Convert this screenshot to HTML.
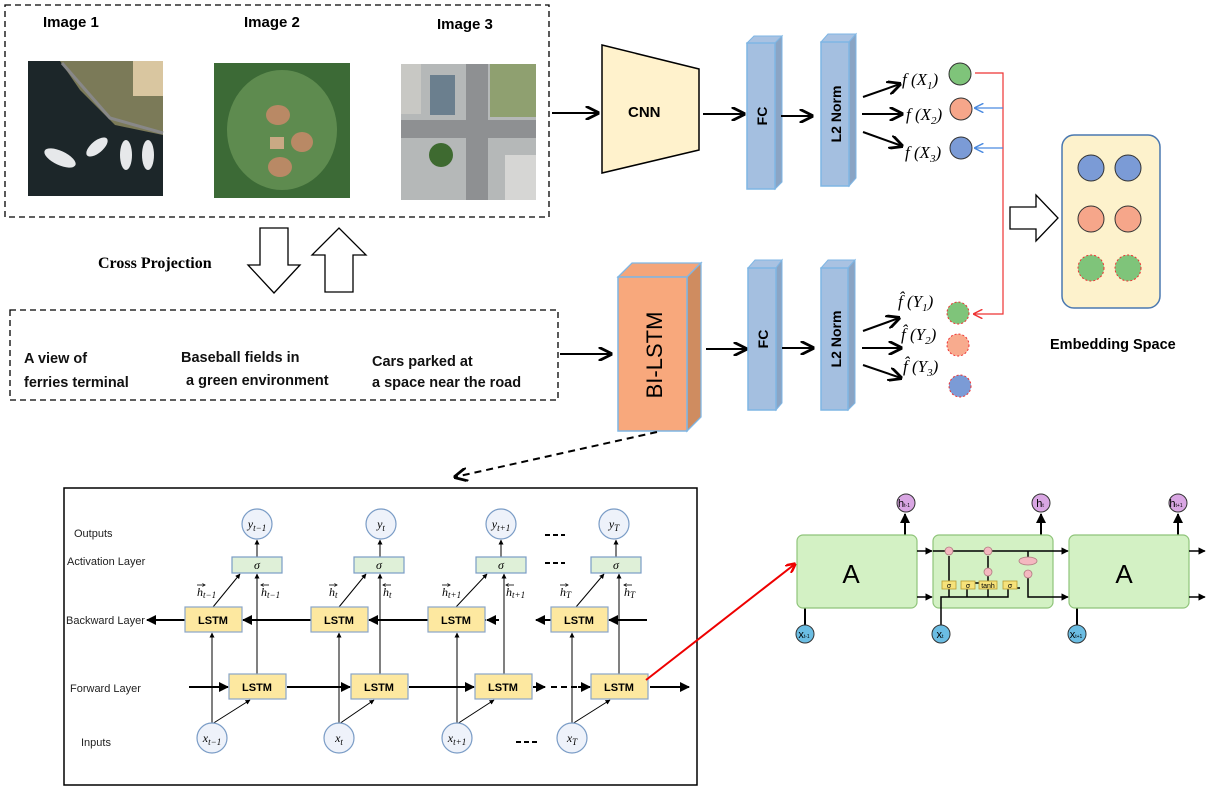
<!DOCTYPE html>
<html><head><meta charset="utf-8"><style>
html,body{margin:0;padding:0;background:#fff;}
svg{display:block;font-family:"Liberation Sans",sans-serif;}
.b{font-weight:bold;}
.m{font-family:"Liberation Serif",serif;font-style:italic;}
</style></head><body>
<svg width="1207" height="793" viewBox="0 0 1207 793" xmlns="http://www.w3.org/2000/svg">
<defs>
<marker id="ah" viewBox="0 0 10 10" refX="9" refY="5" markerWidth="7" markerHeight="7" orient="auto-start-reverse"><path d="M0,0 L10,5 L0,10" fill="none" stroke="#000" stroke-width="2"/></marker>
<marker id="as" viewBox="0 0 10 10" refX="9" refY="5" markerWidth="5" markerHeight="5" orient="auto"><path d="M0,0 L10,5 L0,10 z" fill="#000"/></marker>
<marker id="ar" viewBox="0 0 10 10" refX="9" refY="5" markerWidth="8" markerHeight="8" orient="auto"><path d="M0,0 L10,5 L0,10" fill="none" stroke="#e33" stroke-width="1.5"/></marker>
<marker id="ab" viewBox="0 0 10 10" refX="9" refY="5" markerWidth="8" markerHeight="8" orient="auto"><path d="M0,0 L10,5 L0,10" fill="none" stroke="#4a8ae0" stroke-width="1.5"/></marker>
<marker id="ared" viewBox="0 0 10 10" refX="9" refY="5" markerWidth="5" markerHeight="5" orient="auto"><path d="M0,0 L10,5 L0,10" fill="none" stroke="#e00" stroke-width="2.5"/></marker>
<marker id="tiny" viewBox="0 0 10 10" refX="9" refY="5" markerWidth="4" markerHeight="4" orient="auto-start-reverse"><path d="M0,0 L10,5 L0,10" fill="none" stroke="#000" stroke-width="2"/></marker>
</defs>

<!-- top dashed box -->
<rect x="5" y="5" width="544" height="212" fill="none" stroke="#000" stroke-width="1.3" stroke-dasharray="6,4"/>
<text x="43" y="27" class="b" font-size="15">Image 1</text>
<text x="244" y="27" class="b" font-size="15">Image 2</text>
<text x="437" y="29" class="b" font-size="15">Image 3</text>
<!-- image1 -->
<rect x="28" y="61" width="135" height="135" fill="#1c2629"/>
<polygon points="60,61 163,61 163,135 115,125 80,90" fill="#7b7a58"/>
<rect x="133" y="61" width="30" height="35" fill="#d9c6a0"/>
<polyline points="62,63 110,118 163,133" fill="none" stroke="#888" stroke-width="3"/>
<ellipse cx="60" cy="158" rx="17" ry="7" transform="rotate(25 60 158)" fill="#e6e8ea"/>
<ellipse cx="97" cy="147" rx="13" ry="6" transform="rotate(-40 97 147)" fill="#e6e8ea"/>
<ellipse cx="126" cy="155" rx="6" ry="15" fill="#e6e8ea"/>
<ellipse cx="148" cy="155" rx="6" ry="15" fill="#e6e8ea"/>
<!-- image2 -->
<rect x="214" y="63" width="136" height="135" fill="#3c6a36"/>
<ellipse cx="282" cy="130" rx="55" ry="60" fill="#5e8b4f"/>
<ellipse cx="278" cy="115" rx="12" ry="10" fill="#b98965"/>
<ellipse cx="302" cy="142" rx="11" ry="10" fill="#b98965"/>
<ellipse cx="280" cy="167" rx="12" ry="10" fill="#b98965"/>
<rect x="270" y="137" width="14" height="12" fill="#c9a984"/>
<!-- image3 -->
<rect x="401" y="64" width="135" height="136" fill="#b5b8b8"/>
<rect x="466" y="64" width="22" height="136" fill="#8e9092"/>
<rect x="401" y="120" width="135" height="18" fill="#8e9092"/>
<rect x="490" y="64" width="46" height="53" fill="#8fa070"/>
<rect x="401" y="64" width="20" height="50" fill="#c8c8c4"/>
<rect x="430" y="75" width="25" height="40" fill="#6b7f8e"/>
<circle cx="441" cy="155" r="12" fill="#3e6a30"/>
<rect x="505" y="155" width="31" height="45" fill="#d6d6d4"/>

<text x="98" y="268" font-family="Liberation Serif,serif" class="b" font-size="16">Cross Projection</text>
<polygon points="260,228 288,228 288,265 300,265 274,293 248,265 260,265" fill="#fff" stroke="#000" stroke-width="1.3"/>
<polygon points="325,292 353,292 353,255 366,255 339,228 312,255 325,255" fill="#fff" stroke="#000" stroke-width="1.3"/>

<!-- text dashed box -->
<rect x="10" y="310" width="548" height="90" fill="none" stroke="#000" stroke-width="1.3" stroke-dasharray="6,4"/>
<g class="b" font-size="14.5" fill="#111">
<text x="24" y="363">A view of</text>
<text x="24" y="387">ferries  terminal</text>
<text x="181" y="362">Baseball fields in</text>
<text x="186" y="385">a green environment</text>
<text x="372" y="366">Cars parked at</text>
<text x="372" y="387">a space  near the road</text>
</g>

<line x1="552" y1="113" x2="598" y2="113" stroke="#000" stroke-width="2" marker-end="url(#ah)"/>
<polygon points="602,45 699,69 699,150 602,173" fill="#fff2cc" stroke="#000" stroke-width="1.5"/>
<text x="628" y="117" class="b" font-size="15">CNN</text>
<line x1="703" y1="114" x2="744" y2="114" stroke="#000" stroke-width="2" marker-end="url(#ah)"/>
<polygon points="747,43 754,36 782,36 775,43" fill="#a9c2e2" stroke="#7fb6e4"/>
<polygon points="775,43 782,36 782,182 775,189" fill="#8aa4c4" stroke="#7fb6e4"/>
<rect x="747" y="43" width="28" height="146" fill="#a4bfe0" stroke="#7fb6e4" stroke-width="1.5"/>
<text transform="translate(767,116) rotate(-90)" text-anchor="middle" class="b" font-size="14">FC</text>
<line x1="781" y1="116" x2="812" y2="116" stroke="#000" stroke-width="2" marker-end="url(#ah)"/>
<polygon points="821,42 828,34 856,34 849,42" fill="#a9c2e2" stroke="#7fb6e4"/>
<polygon points="849,42 856,34 856,178 849,186" fill="#8aa4c4" stroke="#7fb6e4"/>
<rect x="821" y="42" width="28" height="144" fill="#a4bfe0" stroke="#7fb6e4" stroke-width="1.5"/>
<text transform="translate(841,114) rotate(-90)" text-anchor="middle" class="b" font-size="14">L2 Norm</text>
<line x1="863" y1="97" x2="900" y2="84" stroke="#000" stroke-width="2" marker-end="url(#ah)"/>
<line x1="862" y1="114" x2="902" y2="114" stroke="#000" stroke-width="2" marker-end="url(#ah)"/>
<line x1="863" y1="132" x2="902" y2="146" stroke="#000" stroke-width="2" marker-end="url(#ah)"/>
<g class="m" font-size="17">
<text x="902" y="85">f (X<tspan font-size="11" dy="4">1</tspan><tspan dy="-4">)</tspan></text>
<text x="906" y="120">f (X<tspan font-size="11" dy="4">2</tspan><tspan dy="-4">)</tspan></text>
<text x="905" y="158">f (X<tspan font-size="11" dy="4">3</tspan><tspan dy="-4">)</tspan></text>
</g>
<circle cx="960" cy="74" r="11" fill="#7fc47a" stroke="#333" stroke-width="1"/>
<circle cx="961" cy="109" r="11" fill="#f6a68a" stroke="#333" stroke-width="1"/>
<circle cx="961" cy="148" r="11" fill="#7b9bd6" stroke="#333" stroke-width="1"/>
<polyline points="975,73 1003,73 1003,314 974,314" fill="none" stroke="#e33" stroke-width="1.2" marker-end="url(#ar)"/>
<line x1="1003" y1="108" x2="975" y2="108" stroke="#4a8ae0" stroke-width="1.2" marker-end="url(#ab)"/>
<line x1="1003" y1="148" x2="975" y2="148" stroke="#4a8ae0" stroke-width="1.2" marker-end="url(#ab)"/>

<line x1="560" y1="354" x2="611" y2="354" stroke="#000" stroke-width="2" marker-end="url(#ah)"/>
<polygon points="618,277 632,263 701,263 687,277" fill="#f4a57a" stroke="#7fb6e4" stroke-width="1.3"/>
<polygon points="687,277 701,263 701,417 687,431" fill="#cf8c60" stroke="#7fb6e4" stroke-width="1.3"/>
<rect x="618" y="277" width="69" height="154" fill="#f8a87c" stroke="#7fb6e4" stroke-width="1.5"/>
<text transform="translate(662,355) rotate(-90)" text-anchor="middle" font-size="22">BI-LSTM</text>
<line x1="706" y1="349" x2="746" y2="349" stroke="#000" stroke-width="2" marker-end="url(#ah)"/>
<polygon points="748,268 755,260 782,260 776,268" fill="#a9c2e2" stroke="#7fb6e4"/>
<polygon points="776,268 782,260 782,403 776,410" fill="#8aa4c4" stroke="#7fb6e4"/>
<rect x="748" y="268" width="28" height="142" fill="#a4bfe0" stroke="#7fb6e4" stroke-width="1.5"/>
<text transform="translate(768,339) rotate(-90)" text-anchor="middle" class="b" font-size="14">FC</text>
<line x1="782" y1="348" x2="813" y2="348" stroke="#000" stroke-width="2" marker-end="url(#ah)"/>
<polygon points="821,268 828,260 855,260 848,268" fill="#a9c2e2" stroke="#7fb6e4"/>
<polygon points="848,268 855,260 855,403 848,410" fill="#8aa4c4" stroke="#7fb6e4"/>
<rect x="821" y="268" width="27" height="142" fill="#a4bfe0" stroke="#7fb6e4" stroke-width="1.5"/>
<text transform="translate(841,339) rotate(-90)" text-anchor="middle" class="b" font-size="14">L2 Norm</text>
<line x1="863" y1="331" x2="899" y2="318" stroke="#000" stroke-width="2" marker-end="url(#ah)"/>
<line x1="862" y1="348" x2="901" y2="348" stroke="#000" stroke-width="2" marker-end="url(#ah)"/>
<line x1="863" y1="365" x2="901" y2="378" stroke="#000" stroke-width="2" marker-end="url(#ah)"/>
<g class="m" font-size="17">
<text x="898" y="307">f̂ (Y<tspan font-size="11" dy="4">1</tspan><tspan dy="-4">)</tspan></text>
<text x="901" y="340">f̂ (Y<tspan font-size="11" dy="4">2</tspan><tspan dy="-4">)</tspan></text>
<text x="903" y="372">f̂ (Y<tspan font-size="11" dy="4">3</tspan><tspan dy="-4">)</tspan></text>
</g>
<circle cx="958" cy="313" r="11" fill="#7fc47a" stroke="#e33" stroke-dasharray="2,2"/>
<circle cx="958" cy="345" r="11" fill="#f8ab8e" stroke="#e33" stroke-dasharray="2,2"/>
<circle cx="960" cy="386" r="11" fill="#7b9bd6" stroke="#e33" stroke-dasharray="2,2"/>

<polygon points="1010,207 1036,207 1036,195 1058,218 1036,241 1036,229 1010,229" fill="#fff" stroke="#000" stroke-width="1.3"/>
<rect x="1062" y="135" width="98" height="173" rx="12" fill="#fdf2cc" stroke="#4a78b0" stroke-width="1.5"/>
<circle cx="1091" cy="168" r="13" fill="#7b9bd6" stroke="#333"/>
<circle cx="1128" cy="168" r="13" fill="#7b9bd6" stroke="#333"/>
<circle cx="1091" cy="219" r="13" fill="#f6a68a" stroke="#333"/>
<circle cx="1128" cy="219" r="13" fill="#f6a68a" stroke="#333"/>
<circle cx="1091" cy="268" r="13" fill="#7fc47a" stroke="#e33" stroke-dasharray="2,2"/>
<circle cx="1128" cy="268" r="13" fill="#7fc47a" stroke="#e33" stroke-dasharray="2,2"/>
<text x="1050" y="349" class="b" font-size="14.5">Embedding Space</text>

<line x1="657" y1="432" x2="455" y2="477" stroke="#000" stroke-width="2" stroke-dasharray="7,5" marker-end="url(#ah)"/>

<rect x="64" y="488" width="633" height="297" fill="#fff" stroke="#000" stroke-width="1.5"/>
<g font-size="11" fill="#222">
<text x="74" y="537">Outputs</text>
<text x="67" y="565">Activation Layer</text>
<text x="66" y="624">Backward Layer</text>
<text x="70" y="692">Forward Layer</text>
<text x="81" y="746">Inputs</text>
</g>
<g stroke="#000" stroke-width="2">
<line x1="185" y1="620" x2="147" y2="620" marker-end="url(#as)"/>
<line x1="311" y1="620" x2="243" y2="620" marker-end="url(#as)"/>
<line x1="428" y1="620" x2="369" y2="620" marker-end="url(#as)"/>
<line x1="470" y1="620" x2="487" y2="620" stroke-dasharray="6,4"/>
<line x1="551" y1="620" x2="536" y2="620" marker-end="url(#as)"/>
<line x1="499" y1="620" x2="487" y2="620" marker-end="url(#as)"/>
<line x1="647" y1="620" x2="609" y2="620" marker-end="url(#as)"/>
<line x1="189" y1="687" x2="228" y2="687" marker-end="url(#as)"/>
<line x1="287" y1="687" x2="350" y2="687" marker-end="url(#as)"/>
<line x1="409" y1="687" x2="474" y2="687" marker-end="url(#as)"/>
<line x1="533" y1="687" x2="545" y2="687" marker-end="url(#as)"/>
<line x1="551" y1="687" x2="580" y2="687" stroke-dasharray="6,4"/>
<line x1="578" y1="687" x2="590" y2="687" marker-end="url(#as)"/>
<line x1="650" y1="687" x2="689" y2="687" marker-end="url(#as)"/>
</g>
<g stroke="#000" stroke-width="1" fill="none">
<line x1="212" y1="724" x2="212" y2="633" marker-end="url(#as)"/><line x1="212" y1="724" x2="250" y2="700" marker-end="url(#as)"/>
<line x1="257" y1="674" x2="257" y2="574" marker-end="url(#as)"/><line x1="213" y1="607" x2="240" y2="574" marker-end="url(#as)"/><line x1="257" y1="557" x2="257" y2="540" marker-end="url(#as)"/>
<line x1="339" y1="724" x2="339" y2="633" marker-end="url(#as)"/><line x1="339" y1="724" x2="374" y2="700" marker-end="url(#as)"/>
<line x1="380" y1="674" x2="380" y2="574" marker-end="url(#as)"/><line x1="339" y1="607" x2="366" y2="574" marker-end="url(#as)"/><line x1="380" y1="557" x2="380" y2="540" marker-end="url(#as)"/>
<line x1="457" y1="724" x2="457" y2="633" marker-end="url(#as)"/><line x1="457" y1="724" x2="494" y2="700" marker-end="url(#as)"/>
<line x1="504" y1="674" x2="504" y2="574" marker-end="url(#as)"/><line x1="456" y1="607" x2="487" y2="574" marker-end="url(#as)"/><line x1="501" y1="557" x2="501" y2="540" marker-end="url(#as)"/>
<line x1="572" y1="724" x2="572" y2="633" marker-end="url(#as)"/><line x1="572" y1="724" x2="610" y2="700" marker-end="url(#as)"/>
<line x1="619" y1="674" x2="619" y2="574" marker-end="url(#as)"/><line x1="576" y1="607" x2="604" y2="574" marker-end="url(#as)"/><line x1="616" y1="557" x2="616" y2="540" marker-end="url(#as)"/>
</g>
<g fill="#fde8a0" stroke="#8aa5c8" stroke-width="1.2">
<rect x="185" y="607" width="57" height="25"/><rect x="311" y="607" width="57" height="25"/><rect x="428" y="607" width="57" height="25"/><rect x="551" y="607" width="57" height="25"/>
<rect x="229" y="674" width="57" height="25"/><rect x="351" y="674" width="57" height="25"/><rect x="475" y="674" width="57" height="25"/><rect x="591" y="674" width="57" height="25"/>
</g>
<g font-size="11" class="b" text-anchor="middle">
<text x="213" y="624">LSTM</text><text x="339" y="624">LSTM</text><text x="456" y="624">LSTM</text><text x="579" y="624">LSTM</text>
<text x="257" y="691">LSTM</text><text x="379" y="691">LSTM</text><text x="503" y="691">LSTM</text><text x="619" y="691">LSTM</text>
</g>
<g fill="#dff0d8" stroke="#7a9cc6" stroke-width="1.2">
<rect x="232" y="557" width="50" height="16"/><rect x="354" y="557" width="50" height="16"/><rect x="476" y="557" width="50" height="16"/><rect x="591" y="557" width="50" height="16"/>
</g>
<g class="m" font-size="12" text-anchor="middle">
<text x="257" y="569">σ</text><text x="379" y="569">σ</text><text x="501" y="569">σ</text><text x="616" y="569">σ</text>
</g>
<g fill="#eef2fa" stroke="#7a9cc6" stroke-width="1.2">
<circle cx="257" cy="524" r="15"/><circle cx="381" cy="524" r="15"/><circle cx="501" cy="524" r="15"/><circle cx="614" cy="524" r="15"/>
<circle cx="212" cy="738" r="15"/><circle cx="339" cy="738" r="15"/><circle cx="457" cy="738" r="15"/><circle cx="572" cy="738" r="15"/>
</g>
<g class="m" font-size="12" text-anchor="middle">
<text x="257" y="528">y<tspan font-size="9" dy="3">t−1</tspan></text>
<text x="381" y="528">y<tspan font-size="9" dy="3">t</tspan></text>
<text x="501" y="528">y<tspan font-size="9" dy="3">t+1</tspan></text>
<text x="614" y="528">y<tspan font-size="9" dy="3">T</tspan></text>
<text x="212" y="742">x<tspan font-size="9" dy="3">t−1</tspan></text>
<text x="339" y="742">x<tspan font-size="9" dy="3">t</tspan></text>
<text x="457" y="742">x<tspan font-size="9" dy="3">t+1</tspan></text>
<text x="572" y="742">x<tspan font-size="9" dy="3">T</tspan></text>
</g>
<!-- h labels -->
<g class="m" font-size="12">
<text x="197" y="596">h<tspan font-size="9" dy="2">t−1</tspan></text>
<text x="261" y="596">h<tspan font-size="9" dy="2">t−1</tspan></text>
<text x="329" y="596">h<tspan font-size="9" dy="2">t</tspan></text>
<text x="383" y="596">h<tspan font-size="9" dy="2">t</tspan></text>
<text x="442" y="596">h<tspan font-size="9" dy="2">t+1</tspan></text>
<text x="506" y="596">h<tspan font-size="9" dy="2">t+1</tspan></text>
<text x="560" y="596">h<tspan font-size="9" dy="2">T</tspan></text>
<text x="624" y="596">h<tspan font-size="9" dy="2">T</tspan></text>
</g>
<g stroke="#000" stroke-width="0.8">
<line x1="197" y1="585" x2="205" y2="585" marker-end="url(#tiny)"/>
<line x1="269" y1="585" x2="261" y2="585" marker-end="url(#tiny)"/>
<line x1="329" y1="585" x2="337" y2="585" marker-end="url(#tiny)"/>
<line x1="391" y1="585" x2="383" y2="585" marker-end="url(#tiny)"/>
<line x1="442" y1="585" x2="450" y2="585" marker-end="url(#tiny)"/>
<line x1="514" y1="585" x2="506" y2="585" marker-end="url(#tiny)"/>
<line x1="560" y1="585" x2="568" y2="585" marker-end="url(#tiny)"/>
<line x1="632" y1="585" x2="624" y2="585" marker-end="url(#tiny)"/>
</g>
<g stroke="#000" stroke-width="2" stroke-dasharray="5,3">
<line x1="545" y1="535" x2="565" y2="535"/><line x1="545" y1="563" x2="565" y2="563"/><line x1="516" y1="742" x2="540" y2="742"/>
</g>

<line x1="646" y1="680" x2="795" y2="564" stroke="#e00" stroke-width="2" marker-end="url(#ared)"/>

<g stroke="#000" stroke-width="2">
<line x1="905" y1="535" x2="905" y2="514" marker-end="url(#as)"/>
<line x1="1041" y1="597" x2="1041" y2="514" marker-end="url(#as)"/>
<line x1="1178" y1="535" x2="1178" y2="514" marker-end="url(#as)"/>
<line x1="805" y1="608" x2="805" y2="625"/>
<line x1="1077" y1="608" x2="1077" y2="625"/>
</g>
<rect x="797" y="535" width="120" height="73" rx="6" fill="#d3f1c4" stroke="#8fc47a" stroke-width="1.2"/>
<rect x="933" y="535" width="120" height="73" rx="6" fill="#d3f1c4" stroke="#8fc47a" stroke-width="1.2"/>
<rect x="1069" y="535" width="120" height="73" rx="6" fill="#d3f1c4" stroke="#8fc47a" stroke-width="1.2"/>
<g stroke="#000" stroke-width="1.5" fill="none">
<line x1="917" y1="551" x2="932" y2="551" marker-end="url(#as)"/>
<line x1="917" y1="597" x2="932" y2="597" marker-end="url(#as)"/>
<line x1="933" y1="551" x2="1068" y2="551" marker-end="url(#as)"/>
<line x1="1189" y1="551" x2="1205" y2="551" marker-end="url(#as)"/>
<line x1="1189" y1="597" x2="1205" y2="597" marker-end="url(#as)"/>
<polyline points="941,625 941,597 1008,597 1008,588 1020,588"/>
<polyline points="1028,570 1028,597 1068,597" marker-end="url(#as)"/>
<line x1="949" y1="597" x2="949" y2="556"/>
<line x1="967" y1="597" x2="967" y2="583"/>
<polyline points="967,583 983,583"/>
<line x1="988" y1="597" x2="988" y2="556"/>
<line x1="1028" y1="551" x2="1028" y2="565"/>
</g>
<g fill="#f6e27a" stroke="#b89a30" stroke-width="0.8">
<rect x="942" y="581" width="14" height="8"/><rect x="961" y="581" width="14" height="8"/><rect x="979" y="581" width="18" height="8"/><rect x="1003" y="581" width="14" height="8"/>
</g>
<g fill="#f4b8c0" stroke="#b07a80" stroke-width="0.8">
<circle cx="949" cy="551" r="4"/><circle cx="988" cy="551" r="4"/><circle cx="988" cy="572" r="4"/><circle cx="1028" cy="574" r="4"/>
<ellipse cx="1028" cy="561" rx="9" ry="4"/>
</g>
<g font-size="7" text-anchor="middle">
<text x="949" y="588">σ</text><text x="968" y="588">σ</text><text x="988" y="588">tanh</text><text x="1010" y="588">σ</text>
</g>
<text x="851" y="583" font-size="26" text-anchor="middle">A</text>
<text x="1124" y="583" font-size="26" text-anchor="middle">A</text>
<g fill="#d9a6e3" stroke="#333" stroke-width="1">
<circle cx="906" cy="503" r="9"/><circle cx="1041" cy="503" r="9"/><circle cx="1178" cy="503" r="9"/>
</g>
<g fill="#6bbde3" stroke="#333" stroke-width="1">
<circle cx="805" cy="634" r="9"/><circle cx="941" cy="634" r="9"/><circle cx="1077" cy="634" r="9"/>
</g>
<g font-size="11" text-anchor="middle">
<text x="904" y="507">h<tspan font-size="5">t-1</tspan></text><text x="1040" y="507">h<tspan font-size="5">t</tspan></text><text x="1176" y="507">h<tspan font-size="5">t+1</tspan></text>
<text x="804" y="638">x<tspan font-size="5">t-1</tspan></text><text x="940" y="638">x<tspan font-size="5">t</tspan></text><text x="1076" y="638">x<tspan font-size="5">t+1</tspan></text>
</g>
</svg>
</body></html>
